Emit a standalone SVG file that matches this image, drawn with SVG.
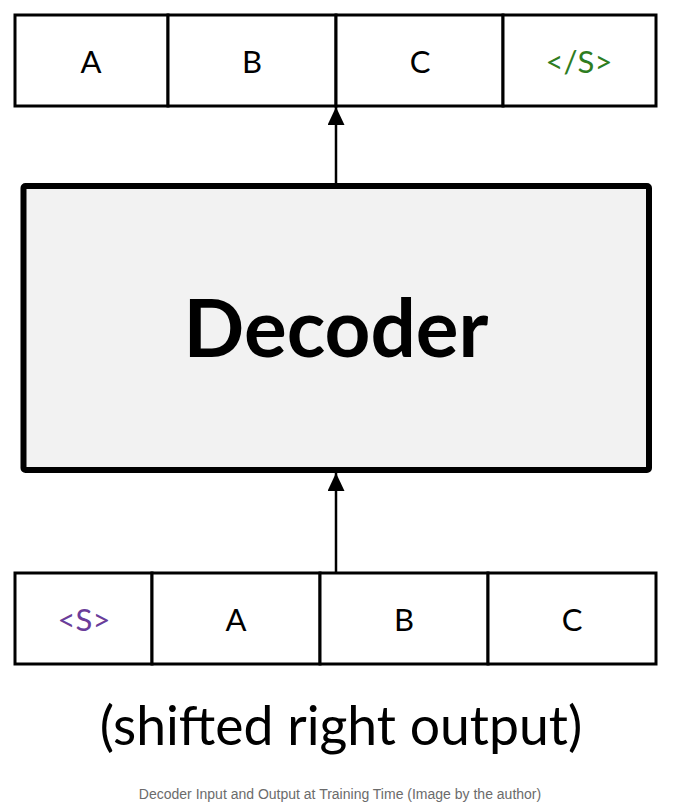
<svg xmlns="http://www.w3.org/2000/svg" width="680" height="804" viewBox="0 0 680 804">
<defs>
<style>
.cell{fill:#fff;stroke:#000;stroke-width:3}
.tok{font-family:Lato,"Open Sans",sans-serif;font-size:31px;text-anchor:middle;fill:#000}
.conn{stroke:#000;stroke-width:2.5;fill:none}
</style>
<marker id="ah" viewBox="0 0 18 17" refX="18" refY="8.5" markerWidth="18" markerHeight="17" markerUnits="userSpaceOnUse" orient="auto">
<path d="M0,0 L18,8.5 L0,17 Z" fill="#000"/>
</marker>
</defs>
<rect width="680" height="804" fill="#fff"/>
<g id="output-row">
<rect class="cell" x="15" y="15" width="153" height="91"/>
<rect class="cell" x="168" y="15" width="168" height="91"/>
<rect class="cell" x="336" y="15" width="167" height="91"/>
<rect class="cell" x="503" y="15" width="153" height="91"/>
<text class="tok" x="91" y="73">A</text>
<text class="tok" x="252" y="73">B</text>
<text class="tok" x="420" y="73">C</text>
<text class="tok" x="579" y="73" style="fill:#2e7d1f">&lt;/S&gt;</text>
</g>
<g id="decoder">
<rect x="23.5" y="186" width="625.5" height="284" rx="2" fill="#f2f2f2" stroke="#000" stroke-width="6"/>
<text x="336" y="357" font-family="Lato,'Open Sans',sans-serif" font-weight="bold" font-size="80" text-anchor="middle">Decoder</text>
</g>
<g id="input-row">
<rect class="cell" x="15" y="573" width="137" height="91"/>
<rect class="cell" x="152" y="573" width="168" height="91"/>
<rect class="cell" x="320" y="573" width="168" height="91"/>
<rect class="cell" x="488" y="573" width="168" height="91"/>
<text class="tok" x="84" y="631" style="fill:#6a3d9a">&lt;S&gt;</text>
<text class="tok" x="236" y="631">A</text>
<text class="tok" x="404" y="631">B</text>
<text class="tok" x="572" y="631">C</text>
</g>
<g id="connectors">
<line class="conn" x1="336" y1="183" x2="336" y2="107" marker-end="url(#ah)"/>
<line class="conn" x1="336" y1="572" x2="336" y2="473" marker-end="url(#ah)"/>
</g>
<g id="labels">
<text x="341" y="745" font-family="Lato,'Open Sans',sans-serif" font-size="53.5" text-anchor="middle">(shifted right output)</text>
<text x="340" y="799" font-family="'Liberation Sans',Arial,sans-serif" font-size="14" fill="#6b6b6b" text-anchor="middle">Decoder Input and Output at Training Time (Image by the author)</text>
</g>
</svg>
